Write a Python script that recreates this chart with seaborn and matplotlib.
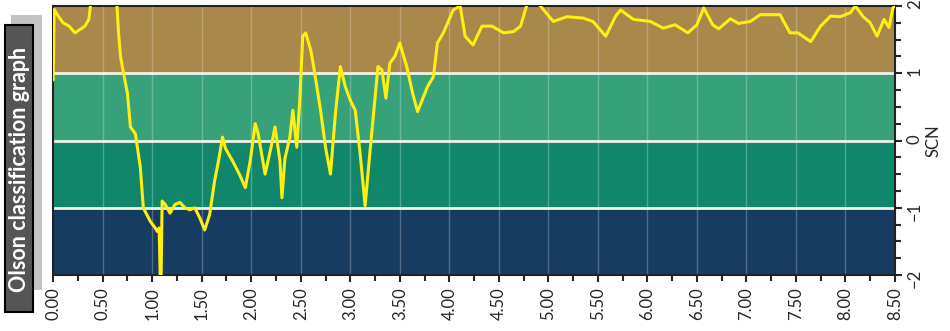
import numpy as np
import pandas as pd
import seaborn as sns
import matplotlib.pyplot as plt
from matplotlib.patches import Rectangle
from matplotlib.ticker import MultipleLocator, FormatStrFormatter

# data (depth vs SCN)
depth = [0.00, 0.01, 0.05, 0.10, 0.16, 0.22, 0.27, 0.32, 0.36, 0.38, 0.45, 0.55,
         0.64, 0.66, 0.68, 0.71, 0.75, 0.78, 0.83, 0.88, 0.91, 0.98, 1.03, 1.05,
         1.07, 1.08, 1.09, 1.10, 1.13, 1.18, 1.23, 1.28, 1.33, 1.38, 1.43, 1.48,
         1.53, 1.58, 1.63, 1.67, 1.71, 1.74, 1.81, 1.88, 1.94, 1.99, 2.04, 2.07,
         2.14, 2.20, 2.24, 2.29, 2.31, 2.34, 2.39, 2.42, 2.46, 2.49, 2.52, 2.55,
         2.60, 2.63, 2.70, 2.75, 2.80, 2.85, 2.90, 2.95, 3.00, 3.05, 3.10, 3.15,
         3.20, 3.28, 3.32, 3.36, 3.40, 3.45, 3.50, 3.57, 3.63, 3.68, 3.78, 3.84,
         3.88, 3.94, 4.04, 4.11, 4.16, 4.24, 4.33, 4.43, 4.55, 4.65, 4.72, 4.79,
         4.85, 4.92, 5.05, 5.19, 5.35, 5.45, 5.58, 5.68, 5.73, 5.86, 6.03, 6.16,
         6.28, 6.41, 6.50, 6.57, 6.66, 6.72, 6.84, 6.92, 7.04, 7.14, 7.24, 7.34,
         7.44, 7.52, 7.65, 7.75, 7.85, 7.95, 8.05, 8.10, 8.18, 8.25, 8.32, 8.39,
         8.44, 8.48, 8.50]
scn = [0.90, 1.95, 1.85, 1.75, 1.70, 1.60, 1.65, 1.70, 1.80, 2.05, 2.40, 2.40,
       2.10, 1.60, 1.25, 1.00, 0.70, 0.20, 0.10, -0.40, -1.00, -1.20, -1.30, -1.35,
       -1.30, -2.00, -2.00, -0.90, -0.95, -1.08, -0.95, -0.92, -1.00, -1.03, -1.00, -1.15,
       -1.33, -1.10, -0.60, -0.30, 0.05, -0.12, -0.30, -0.50, -0.70, -0.30, 0.25, 0.10,
       -0.50, -0.10, 0.20, -0.30, -0.85, -0.27, 0.05, 0.45, -0.10, 0.60, 1.55, 1.60,
       1.35, 1.10, 0.45, -0.10, -0.50, 0.40, 1.10, 0.80, 0.60, 0.45, -0.20, -0.97,
       -0.15, 1.10, 1.05, 0.63, 1.15, 1.25, 1.45, 1.10, 0.70, 0.43, 0.80, 0.95,
       1.45, 1.60, 1.94, 2.00, 1.55, 1.42, 1.70, 1.70, 1.60, 1.62, 1.70, 2.05,
       2.10, 2.00, 1.77, 1.84, 1.82, 1.77, 1.55, 1.85, 1.94, 1.80, 1.77, 1.67,
       1.72, 1.60, 1.72, 1.97, 1.72, 1.66, 1.81, 1.74, 1.77, 1.87, 1.87, 1.87,
       1.60, 1.60, 1.47, 1.70, 1.85, 1.84, 1.90, 2.00, 1.84, 1.75, 1.55, 1.80,
       1.68, 1.97, 2.00]

# classification bands
band_low = [-2, -1, 0, 1]
band_high = [-1, 0, 1, 2]
band_colors = ["#173c62", "#10876b", "#37a17a", "#a8884b"]

df = pd.DataFrame({"depth": depth, "SCN": scn})

sns.set_style("ticks")
plt.rcParams["font.family"] = ["Lato", "DejaVu Sans"]

fig = plt.figure(figsize=(9.5, 3.31), dpi=100)
ax = fig.add_axes([0.056, 0.169, 0.886, 0.813])

for lo, hi, c in zip(band_low, band_high, band_colors):
    ax.axhspan(lo, hi, color=c, zorder=0, lw=0)
for v in [-1, 0, 1]:
    ax.axhline(v, color="#f2f2e6", lw=2, zorder=1)
for xv in np.arange(0.5, 8.5, 0.5):
    ax.axvline(xv, color="white", lw=1, alpha=0.25, zorder=1)

sns.lineplot(data=df, x="depth", y="SCN", sort=False, estimator=None,
             color="#ffee10", lw=2.2, ax=ax, zorder=3)

ax.set_xlim(0, 8.5)
ax.set_ylim(-2, 2)
ax.xaxis.set_major_locator(MultipleLocator(0.5))
ax.xaxis.set_minor_locator(MultipleLocator(0.25))
ax.xaxis.set_major_formatter(FormatStrFormatter("%.2f"))
ax.yaxis.set_major_locator(MultipleLocator(1))
ax.yaxis.set_minor_locator(MultipleLocator(0.25))
ax.yaxis.tick_right()
ax.yaxis.set_label_position("right")
ax.tick_params(axis="x", which="major", rotation=90, labelsize=12, length=5, width=1.5)
ax.tick_params(axis="y", which="major", labelrotation=90, labelsize=12, length=5, width=1.5)
ax.tick_params(which="minor", length=4, width=1.5)
ax.set_xlabel("")
ax.set_ylabel("SCN", fontsize=12, labelpad=2)
for s in ax.spines.values():
    s.set_color("#222222")
    s.set_linewidth(1.5)

# title box on the left, with a light shadow
fig.patches.append(Rectangle((0.012, 0.124), 0.032, 0.83, transform=fig.transFigure,
                             facecolor="#c4c4c4", edgecolor="none", zorder=0))
fig.patches.append(Rectangle((0.0055, 0.057), 0.029, 0.867, transform=fig.transFigure,
                             facecolor="#555555", edgecolor="black", lw=1.5, zorder=1))
fig.text(0.0205, 0.487, "Olson classification graph", rotation=90, color="white",
         fontsize=15.5, fontweight="bold", ha="center", va="center", zorder=2)

fig.savefig("out.png", dpi=100)
